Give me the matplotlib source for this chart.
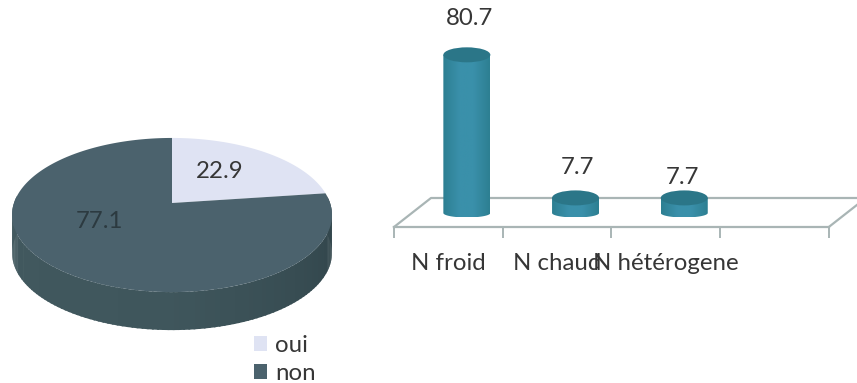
import numpy as np
import matplotlib.pyplot as plt
from matplotlib.colors import LinearSegmentedColormap
from matplotlib.patches import Ellipse, Patch, Polygon
from matplotlib.path import Path

plt.rcParams['font.family'] = ['Lato', 'DejaVu Sans']

pie_labels = ['oui', 'non']
pie_values = [22.9, 77.1]
pie_colors = ['#dfe3f3', '#4b626d']

bar_labels = ['N froid', 'N chaud', 'N hétérogene']
bar_values = [80.7, 7.7, 7.7]

W, H = 857, 383
TEXT = '#363636'
FLOOR = '#a9b5b5'
FS = 17.3

fig = plt.figure(figsize=(W / 100, H / 100), dpi=100)

# background layer in pixel units, holds the tilted pie
ax = fig.add_axes([0, 0, 1, 1])
ax.set_xlim(0, W)
ax.set_ylim(H, 0)
ax.axis('off')

# tilted disc: circle through a perspective projection
cx, cy, b, a, k = 172, 203, 158, 75.2, 0.156
depth = 38


def project(t):
    u, v = np.sin(t), np.cos(t)
    return cx + b * u / (1 + k * v), cy - a * v / (1 + k * v)


# side wall in short segments, getting darker towards the right
wall_cmap = LinearSegmentedColormap.from_list('wall', ['#2f4248', '#3f565c', '#42595f'])
edges = np.radians(np.linspace(85, 275, 120))
for i in range(len(edges) - 1):
    t = np.linspace(edges[i], edges[i + 1] + 0.01, 4)
    x, y = project(t)
    pts = np.column_stack([np.r_[x, x[::-1]], np.r_[y, y[::-1] + depth]])
    ax.add_patch(Polygon(pts, fc=wall_cmap(i / 119), ec='none'))

# slices clockwise from twelve o'clock
start = 0
for val, col in zip(pie_values, pie_colors):
    stop = start + val / sum(pie_values) * 2 * np.pi
    t = np.linspace(start, stop, 200)
    x, y = project(t)
    ax.add_patch(Polygon(np.column_stack([np.r_[cx, x], np.r_[cy, y]]), fc=col, ec='none'))
    start = stop

ax.text(220, 172, f'{pie_values[0]}', ha='center', va='center', fontsize=FS, color=TEXT)
ax.text(100, 221, f'{pie_values[1]}', ha='center', va='center', fontsize=FS, color='#2c3a40')

handles = [Patch(fc=c, ec='none') for c in pie_colors]
ax.legend(handles, pie_labels, loc='upper left', bbox_to_anchor=(254 / W, 1 - 335 / H),
          frameon=False, fontsize=FS, handlelength=0.55, handleheight=0.55,
          handletextpad=0.32, labelspacing=0.29, borderpad=0, borderaxespad=0,
          labelcolor=TEXT)

# bar chart axes: value 0 sits on the front edge of the floor
px_cat, px_unit = 108.7, 1.96
left, right_edge, base = 394, 394 + 4 * px_cat, 227
top = base - 100 * px_unit
bx = fig.add_axes([left / W, 1 - base / H, (right_edge - left) / W, (base - top) / H])
bx.set_xlim(-0.5, 3.5)
bx.set_ylim(0, 100)
bx.patch.set_alpha(0)
for s in ['top', 'left', 'right']:
    bx.spines[s].set_visible(False)
bx.spines['bottom'].set_color(FLOOR)
bx.spines['bottom'].set_linewidth(1.6)
bx.set_yticks([])
bx.set_xticks(range(len(bar_labels)), bar_labels, fontsize=FS, color=TEXT)
bx.set_xticks(np.arange(-0.5, 4), minor=True)
bx.tick_params(axis='x', which='major', length=0, pad=19)
bx.tick_params(axis='x', which='minor', length=8, width=1.4, color=FLOOR)

# floor receding behind the axis
dx, dy = 37 / px_cat, 29 / px_unit
bx.plot([-0.5, -0.5 + dx, 3.5 + dx, 3.5], [0, dy, dy, 0], color=FLOOR, lw=1.6,
        clip_on=False, zorder=1)

# cylinders stand halfway back on the floor
shift_x, shift_y = 18.5 / px_cat, 14 / px_unit
half_w, half_h = 23.5 / px_cat, 7.5 / px_unit
foot_h = 4.5 / px_unit
shade = np.interp(np.linspace(-1, 1, 64), [-1, -0.3, 0.3, 1], [0, 1, 1, 0]).reshape(1, -1)
cmap = LinearSegmentedColormap.from_list('cyl', ['#2d7f92', '#3a90aa'])

# distance from cylinder top to its value label, in pixels
label_lift = [36, 30, 20]
label_nudge = [3, 2, -2]

for i, val in enumerate(bar_values):
    xc = i + shift_x
    y0, y1 = shift_y, shift_y + val
    s = np.linspace(0, np.pi, 60)
    arc = np.column_stack([xc - half_w * np.cos(s), y0 - foot_h * np.sin(s)])
    outline = np.vstack([[xc - half_w, y1], arc, [xc + half_w, y1], [xc - half_w, y1]])
    im = bx.imshow(shade, cmap=cmap, aspect='auto', zorder=3,
                   extent=[xc - half_w, xc + half_w, y0 - foot_h, y1])
    im.set_clip_path(Path(outline), transform=bx.transData)
    bx.add_patch(Ellipse((xc, y1), 2 * half_w, 2 * half_h, fc='#2b7688', ec='none',
                         zorder=4, clip_on=False))
    bx.text(xc + label_nudge[i] / px_cat, y1 + label_lift[i] / px_unit, f'{val}', ha='center',
            va='center', fontsize=FS, color=TEXT, zorder=5)

bx.set_xlim(-0.5, 3.5)
bx.set_ylim(0, 100)

fig.savefig('out.png', dpi=100, facecolor='white')
